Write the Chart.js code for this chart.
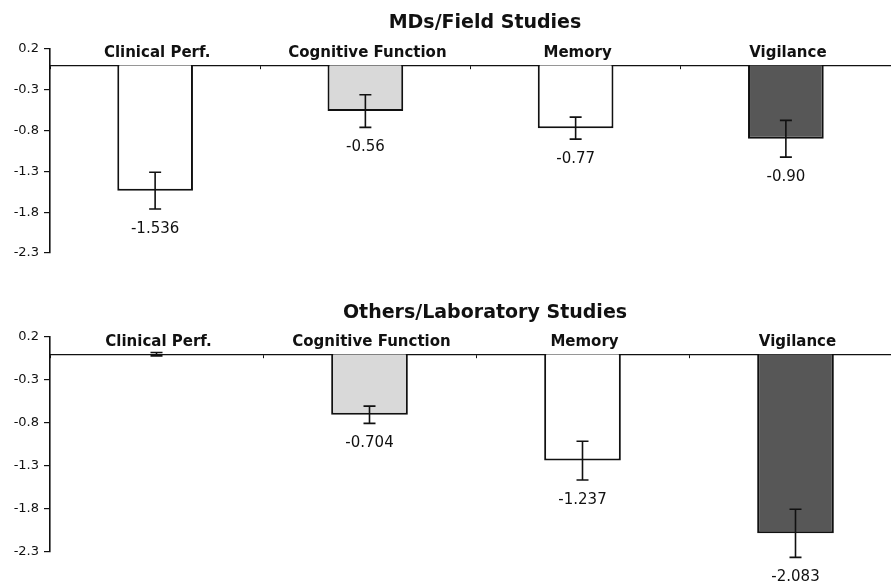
<!DOCTYPE html>
<html lang="en">
<head>
    <meta charset="UTF-8">
    <title>MDs/Field Studies vs Others/Laboratory Studies</title>
    <script src="https://cdn.jsdelivr.net/npm/chart.js"></script>
    <style>
        body {
            margin: 0;
            background: #fff;
            width: 891px;
            height: 584px;
            overflow: hidden;
            position: relative;
        }
        .panel {
            position: absolute;
            left: 0;
        }
        #fieldBox { top: 0; width: 891px; height: 280px; }
        #labBox { top: 285px; width: 902px; height: 299px; }
    </style>
</head>
<body>
    <div class="panel" id="fieldBox"><canvas id="fieldChart"></canvas></div>
    <div class="panel" id="labBox"><canvas id="labChart"></canvas></div>
    <script>
        const categories = ['Clinical Perf.', 'Cognitive Function', 'Memory', 'Vigilance'];
        const barColors = ['#ffffff', '#d9d9d9', '#ffffff', '#575757'];
        const yTicks = [0.2, -0.3, -0.8, -1.3, -1.8, -2.3];

        // MDs / field studies
        const fieldValues = [-1.536, -0.56, -0.77, -0.90];
        const fieldErrors = [0.225, 0.2, 0.135, 0.225];
        const fieldLabels = ['-1.536', '-0.56', '-0.77', '-0.90'];

        // Others / laboratory studies
        const labValues = [0, -0.704, -1.237, -2.083];
        const labErrors = [0.02, 0.1, 0.225, 0.28];
        const labLabels = ['', '-0.704', '-1.237', '-2.083'];

        const ink = '#111';

        function makePanel(canvasId, values, errors, labels, title, titleY, padding) {
            // error bars, value labels, category names and the panel title
            const extras = {
                id: 'extras',
                afterDatasetsDraw(chart) {
                    const ctx = chart.ctx;
                    const xs = chart.scales.x, ys = chart.scales.y;
                    const zero = ys.getPixelForValue(0);
                    ctx.save();
                    ctx.strokeStyle = ink;
                    ctx.fillStyle = ink;
                    ctx.lineWidth = 1.6;
                    values.forEach((v, i) => {
                        const cx = xs.getPixelForValue(i);
                        const top = ys.getPixelForValue(v + errors[i]);
                        const bot = ys.getPixelForValue(v - errors[i]);
                        ctx.beginPath();
                        ctx.moveTo(cx, top); ctx.lineTo(cx, bot);
                        ctx.moveTo(cx - 6, top); ctx.lineTo(cx + 6, top);
                        ctx.moveTo(cx - 6, bot); ctx.lineTo(cx + 6, bot);
                        ctx.stroke();

                        ctx.textAlign = 'center';
                        ctx.font = '15px "DejaVu Sans"';
                        ctx.textBaseline = 'middle';
                        ctx.fillText(labels[i], cx, bot + 20);

                        ctx.font = 'bold 15px "DejaVu Sans"';
                        ctx.textBaseline = 'alphabetic';
                        ctx.fillText(categories[i], cx + 2, zero - 8);
                    });
                    ctx.font = 'bold 19px "DejaVu Sans"';
                    ctx.textAlign = 'center';
                    ctx.textBaseline = 'middle';
                    ctx.fillText(title, 485, titleY);
                    ctx.restore();
                }
            };

            return new Chart(document.getElementById(canvasId), {
                type: 'bar',
                data: {
                    labels: categories,
                    datasets: [{
                        data: values,
                        backgroundColor: barColors,
                        borderColor: ink,
                        borderWidth: 2,
                        barPercentage: 0.36,
                        categoryPercentage: 1
                    }]
                },
                options: {
                    responsive: true,
                    maintainAspectRatio: false,
                    animation: false,
                    layout: { padding: padding },
                    plugins: {
                        legend: { display: false },
                        tooltip: { enabled: false },
                        title: { display: false }
                    },
                    scales: {
                        x: {
                            position: { y: 0 },
                            offset: true,
                            grid: { offset: true, drawOnChartArea: false, tickLength: 3, color: ink },
                            border: { color: ink, width: 1.2 },
                            ticks: { display: false }
                        },
                        y: {
                            min: yTicks[yTicks.length - 1],
                            max: yTicks[0],
                            afterBuildTicks: s => { s.ticks = yTicks.map(v => ({ value: v })); },
                            afterFit: s => { s.width = 50; },
                            ticks: {
                                callback: v => v.toFixed(1),
                                font: { family: 'DejaVu Sans', size: 13 },
                                color: ink,
                                padding: 5
                            },
                            grid: { drawOnChartArea: false, tickLength: 6, color: ink, lineWidth: 1.2 },
                            border: { color: ink, width: 1.6 }
                        }
                    }
                },
                plugins: [extras]
            });
        }

        makePanel('fieldChart', fieldValues, fieldErrors, fieldLabels,
            'MDs/Field Studies', 23, { top: 49, bottom: 27, left: 0, right: 0 });
        makePanel('labChart', labValues, labErrors, labLabels,
            'Others/Laboratory Studies', 28, { top: 52, bottom: 32, left: 0, right: 0 });
    </script>
</body>
</html>
